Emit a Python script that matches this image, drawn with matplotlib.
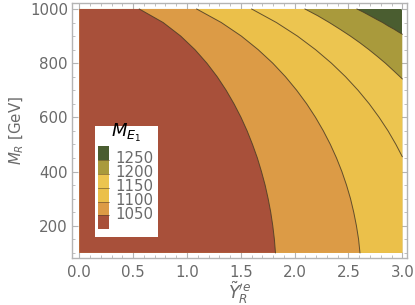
import matplotlib
matplotlib.use("Agg")
import numpy as np
import matplotlib.pyplot as plt
from matplotlib.patches import Polygon, Rectangle
from matplotlib.ticker import MultipleLocator

# ── data: contour lines of M_E1 (x = Y~'e_R, y = M_R) ──
levels = [1050, 1100, 1150, 1200, 1250]
band_colors = ["#A8503A", "#DC9B46", "#EBC04A", "#ECC550", "#A99A3C", "#4A5D30"]

c1050_x = [0.557, 0.779, 0.942, 1.074, 1.185, 1.281, 1.364, 1.437, 1.502, 1.559,
           1.609, 1.654, 1.692, 1.726, 1.754, 1.778, 1.797, 1.812, 1.822]
c1050_y = [1000, 950, 900, 850, 800, 750, 700, 650, 600, 550,
           500, 450, 400, 350, 300, 250, 200, 150, 100]
c1100_x = [1.090, 1.319, 1.505, 1.661, 1.797, 1.915, 2.019, 2.112, 2.194, 2.267,
           2.332, 2.389, 2.439, 2.482, 2.519, 2.549, 2.574, 2.594, 2.607]
c1100_y = [1000, 950, 900, 850, 800, 750, 700, 650, 600, 550,
           500, 450, 400, 350, 300, 250, 200, 150, 100]
c1150_x = [1.601, 1.831, 2.026, 2.194, 2.342, 2.473, 2.589, 2.693, 2.785, 2.868, 2.941, 3.0]
c1150_y = [1000, 950, 900, 850, 800, 750, 700, 650, 600, 550, 500, 455]
c1200_x = [2.096, 2.215, 2.322, 2.422, 2.518, 2.607, 2.690, 2.768, 2.843, 2.925, 3.0]
c1200_y = [1000, 975, 950, 925, 900, 875, 850, 825, 800, 770, 742]
c1250_x = [2.579, 2.640, 2.700, 2.760, 2.817, 2.870, 2.925, 2.965, 3.0]
c1250_y = [1000, 988, 975, 962, 950, 937, 925, 915, 907]

curves = [(c1050_x, c1050_y), (c1100_x, c1100_y), (c1150_x, c1150_y),
          (c1200_x, c1200_y), (c1250_x, c1250_y)]

X0, X1, Y0, Y1 = 0.0, 3.0, 100, 1000
xticks = [0.0, 0.5, 1.0, 1.5, 2.0, 2.5, 3.0]
yticks = [200, 400, 600, 800, 1000]

GRAY = "#6a6a6a"
FRAME = "#b4b4b4"
W, H = 415, 305
FS = 10.8

fig = plt.figure(figsize=(W / 100, H / 100), dpi=100)
ax = fig.add_axes([72 / W, 1 - 258 / H, (406.7 - 72) / W, (258 - 3.3) / H])
ax.set_xlim(-0.068, 3.041)
ax.set_ylim(81, 1021)

# top band fills the whole plot range, lower bands painted over it
ax.add_patch(Rectangle((X0, Y0), X1 - X0, Y1 - Y0, fc=band_colors[-1], ec="none", zorder=1))
for i in range(len(levels) - 1, -1, -1):
    cx, cy = curves[i]
    pts = [(X0, Y1)] + list(zip(cx, cy))
    if cx[-1] >= X1 and cy[-1] > Y0:
        pts.append((X1, Y0))
    pts.append((X0, Y0))
    ax.add_patch(Polygon(pts, closed=True, fc=band_colors[i], ec="none", zorder=2))
for cx, cy in curves:
    ax.plot(cx, cy, color="#4a3c26", lw=0.7, alpha=0.85, zorder=3)

# frame, ticks
for s in ax.spines.values():
    s.set_color(FRAME)
    s.set_linewidth(1.0)
ax.set_xticks(xticks)
ax.set_xticklabels([f"{v:.1f}" for v in xticks])
ax.set_yticks(yticks)
ax.xaxis.set_minor_locator(MultipleLocator(0.1))
ax.yaxis.set_minor_locator(MultipleLocator(50))
ax.tick_params(which="both", direction="in", top=True, right=True,
               color=FRAME, labelcolor=GRAY, labelsize=FS)
ax.tick_params(axis="x", pad=5)
ax.tick_params(axis="y", pad=3)
ax.tick_params(which="major", length=4, width=0.8)
ax.tick_params(which="minor", length=2, width=0.6)
ax.set_xlabel(r"$\tilde{Y}_R^{\prime e}$", color=GRAY, fontsize=12.5, labelpad=0)
ax.set_ylabel(r"$M_R$ [GeV]", color=GRAY, fontsize=FS, labelpad=3)

# legend box
lx0, ly0, lx1, ly1 = 95, 125.7, 158.3, 236.7
lax = fig.add_axes([lx0 / W, 1 - ly1 / H, (lx1 - lx0) / W, (ly1 - ly0) / H])
lax.set_xlim(0, lx1 - lx0)
lax.set_ylim(ly1 - ly0, 0)
lax.axis("off")
lax.add_patch(Rectangle((0, 0), lx1 - lx0, ly1 - ly0, fc="white", ec="none"))
sw_top, sw_bot = 20.3, 103.6
sh = (sw_bot - sw_top) / len(band_colors)
for k, col in enumerate(reversed(band_colors)):
    lax.add_patch(Rectangle((3.3, sw_top + k * sh), 11, sh, fc=col, ec="none"))
for k, lev in enumerate(reversed(levels)):
    yb = sw_top + (k + 1) * sh
    lax.plot([3.3, 14.3], [yb, yb], color="#4a3c26", lw=0.5, alpha=0.7)
    lax.text(20, yb - 1, str(lev), color=GRAY, fontsize=FS, va="center", ha="left")
lax.text(31, 7, r"$M_{E_1}$", color="black", fontsize=13, ha="center", va="center")

fig.savefig("out.png", dpi=100)
